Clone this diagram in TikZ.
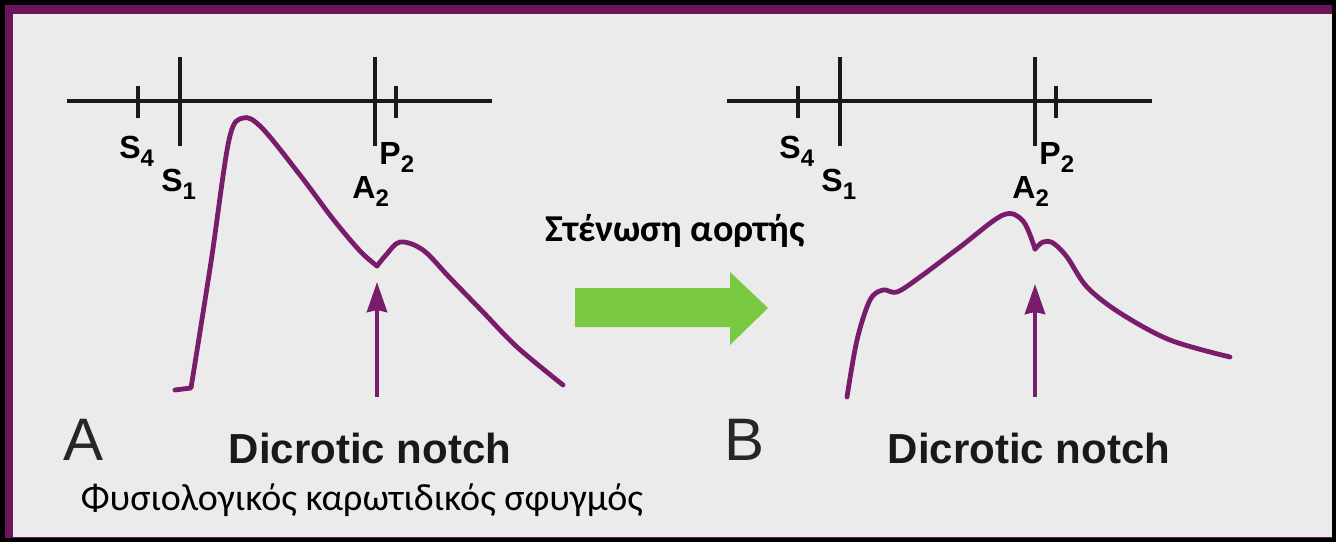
\documentclass[tikz,border=0pt]{standalone}
\usepackage{fontspec}
\setmainfont{Liberation Sans}
\newfontfamily\greekfont{Carlito}
\usetikzlibrary{arrows.meta,positioning}
\definecolor{pulsePurple}{RGB}{122,28,108}
\definecolor{framePurple}{RGB}{108,22,90}
\definecolor{panelGray}{RGB}{235,235,235}
\definecolor{shiftGreen}{RGB}{122,201,67}
\newcommand{\sndlbl}[2]{#1\raisebox{-4pt}{\fontsize{12}{12}\selectfont #2}}

\begin{document}
\begin{tikzpicture}[x=0.5pt,y=-0.5pt,
  timeline/.style={line width=2.3pt,black!90},
  pulse/.style={pulsePurple,line width=2.4pt,line cap=round,line join=round},
  notcharrow/.style={pulsePurple,line width=2.2pt,-{Stealth[length=15pt,width=10pt,inset=1pt]}},
  sndlabel/.style={anchor=base west,inner sep=0pt,font=\fontsize{16}{16}\selectfont\bfseries},
  panellabel/.style={inner sep=0pt,font=\fontsize{30}{30}\selectfont,text=black!85},
  notchlabel/.style={inner sep=0pt,font=\fontsize{21}{21}\selectfont\bfseries,text=black!90},
  greeklabel/.style={inner sep=0pt,font=\greekfont\fontsize{19}{19}\selectfont}]
\useasboundingbox (0,0) rectangle (1336,542);
\fill[black] (0,0) rectangle (1336,542);
\fill[framePurple] (5,5) rectangle (1332,538);
\fill[panelGray] (13,14) rectangle (1332,537);

\foreach \dx/\p in {0/A,660/B}{
  \draw[timeline] (67+\dx,101) -- (492+\dx,101);
  \draw[timeline] (138+\dx,86) -- (138+\dx,118);
  \draw[timeline] (180+\dx,57) -- (180+\dx,146);
  \draw[timeline] (375+\dx,57) -- (375+\dx,146);
  \draw[timeline] (396+\dx,86) -- (396+\dx,118);
  \node[sndlabel] (s4\p) at (119+\dx,158) {\sndlbl{S}{4}};
  \node[sndlabel] (s1\p) at (161+\dx,191) {\sndlbl{S}{1}};
  \node[sndlabel] (p2\p) at (379+\dx,164) {\sndlbl{P}{2}};
  \node[sndlabel] (a2\p) at (352+\dx,198) {\sndlbl{A}{2}};
  \node[panellabel] (panel\p) at (84+\dx,440) {\p};
}

\draw[pulse] (175,390) -- plot[smooth,tension=0.55] coordinates {(191,388) (211,262) (229,140) (243,118) (262,128) (300,175) (333,219) (360,251) (377,266)};
\draw[pulse] plot[smooth,tension=0.55] coordinates {(377,266) (386,255) (400,242) (423,250) (450,278) (483,312) (517,347) (563,385)};

\draw[pulse] plot[smooth,tension=0.55] coordinates {(847,397) (857,340) (870,300) (883,290) (897,292) (920,277) (960,247) (1003,215) (1023,221) (1035,249)};
\draw[pulse] plot[smooth,tension=0.55] coordinates {(1035,249) (1043,242) (1053,243) (1067,257) (1087,287) (1120,313) (1170,340) (1230,357)};

\coordinate (baseA) at (377,397);
\coordinate (notchA) at (377,282);
\coordinate (baseB) at (1035,397);
\coordinate (notchB) at (1035,284);
\draw[notcharrow] (baseA) -- (notchA);
\draw[notcharrow] (baseB) -- (notchB);

\node[notchlabel] (dicroticA) at (370,448) {Dicrotic notch};
\node[notchlabel] (dicroticB) at (1029,448) {Dicrotic notch};

\fill[shiftGreen] (575,288) -- (730,288) -- (730,272) -- (768,308) -- (730,345) -- (730,327) -- (575,327) -- cycle;
\node[greeklabel,font=\greekfont\bfseries\fontsize{19}{19}\selectfont] (stenosis) at (675,231) {Στένωση αορτής};
\node[greeklabel] (normal) at (362,500) {Φυσιολογικός καρωτιδικός σφυγμός};
\end{tikzpicture}
\end{document}
